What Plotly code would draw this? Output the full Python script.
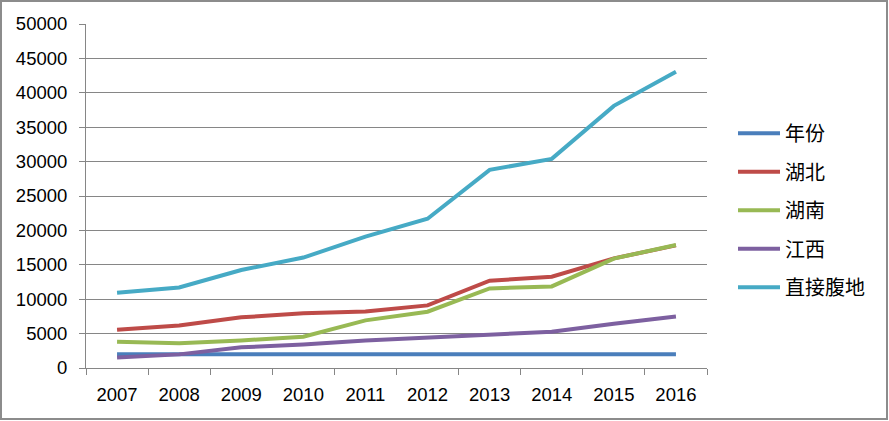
import plotly.graph_objects as go

years = ["2007", "2008", "2009", "2010", "2011", "2012", "2013", "2014", "2015", "2016"]
nianfen = [2007, 2008, 2009, 2010, 2011, 2012, 2013, 2014, 2015, 2016]
hubei = [5550, 6190, 7360, 7940, 8230, 9100, 12690, 13270, 15930, 17820]
hunan = [3820, 3580, 4010, 4550, 6920, 8180, 11570, 11860, 15900, 17880]
jiangxi = [1540, 1980, 3000, 3430, 4010, 4450, 4800, 5280, 6440, 7500]
fudi = [10950, 11700, 14250, 16050, 19100, 21700, 28800, 30400, 38100, 43050]

series = [
    ("年份", nianfen, "#4A7EBB"),
    ("湖北", hubei, "#BE4B48"),
    ("湖南", hunan, "#98B954"),
    ("江西", jiangxi, "#7D60A0"),
    ("直接腹地", fudi, "#46AAC5"),
]

W, H = 889, 421
L, R, T, B = 86, 182, 24, 53
pw, ph = W - L - R, H - T - B

fig = go.Figure()
for i, (name, vals, col) in enumerate(series):
    fig.add_trace(go.Scatter(x=years, y=vals, name=name, mode="lines", legendgroup="g%d" % i,
                             line=dict(color=col, width=4)))

legend_center = (135 + 285.7) / 2
tick_font = dict(family="Liberation Sans", size=18.5, color="#000000")
fig.update_layout(
    width=W, height=H,
    margin=dict(l=L, r=R, t=T, b=B, pad=0),
    paper_bgcolor="white", plot_bgcolor="white",
    font=dict(family="Liberation Sans, Noto Sans CJK SC", size=18, color="#000000"),
    showlegend=True,
    legend=dict(x=(733 - L) / pw, y=1 - (legend_center - T) / ph, xanchor="left", yanchor="middle",
                font=dict(family="Noto Sans CJK SC", size=20, color="#000000"),
                itemwidth=42, tracegroupgap=9.5, bgcolor="rgba(0,0,0,0)"),
    xaxis=dict(type="category", range=[-0.5, 9.5], showgrid=False, showline=True,
               linecolor="#868686", linewidth=1, ticks="outside", ticklen=6,
               tickcolor="#868686", tickson="boundaries", zeroline=False,
               ticklabelstandoff=10, tickfont=tick_font, fixedrange=True),
    yaxis=dict(range=[0, 50000], dtick=5000, tickformat="d", showgrid=True, gridcolor="#868686",
               gridwidth=1, showline=True, linecolor="#868686", linewidth=1,
               ticks="outside", ticklen=6, tickcolor="#868686", zeroline=False,
               ticklabelstandoff=8, tickfont=tick_font, fixedrange=True),
    shapes=[dict(type="rect", xref="paper", yref="paper",
                 x0=-(L - 1) / pw, x1=1 + (R - 2) / pw,
                 y0=-(B - 2) / ph, y1=1 + (T - 1) / ph,
                 line=dict(color="#8C8C8C", width=2), fillcolor="rgba(0,0,0,0)", layer="above")],
)

fig.write_html("out.html", config={"displayModeBar": False},
               post_script="document.body.style.margin='0';document.body.style.overflow='hidden';")
